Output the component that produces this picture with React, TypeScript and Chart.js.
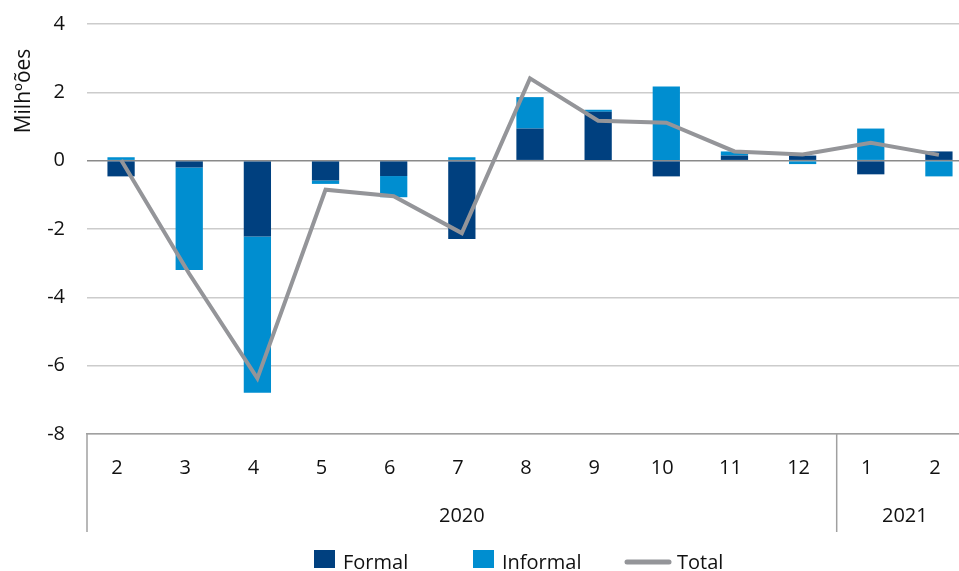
import React, { useEffect, useRef } from "react";
import { Chart, registerables } from "chart.js";

Chart.register(...registerables);

// ---- Data ----
const months = ["2", "3", "4", "5", "6", "7", "8", "9", "10", "11", "12", "1", "2"];
const years = ["2020", "2020", "2020", "2020", "2020", "2020", "2020", "2020", "2020", "2020", "2020", "2021", "2021"];
const formal = [-0.46, -0.2, -2.22, -0.58, -0.45, -2.29, 0.94, 1.43, -0.46, 0.15, 0.15, -0.4, 0.27];
const informal = [0.1, -3.0, -4.57, -0.1, -0.62, 0.1, 0.92, 0.06, 2.17, 0.12, -0.1, 0.94, -0.46];
const total = [0.02, -3.31, -6.37, -0.85, -1.04, -2.12, 2.41, 1.17, 1.11, 0.27, 0.18, 0.52, 0.17];
const yTicks = [4, 2, 0, -2, -4, -6, -8];
const yTitle = "Milh\u00BA\u00F5es";

// ---- Styles ----
const FONT = "'Open Sans', sans-serif";
const FORMAL_COLOR = "#00407F";
const INFORMAL_COLOR = "#008ED0";
const TOTAL_COLOR = "#949599";
const TEXT_COLOR = "#111111";
const AXIS_COLOR = "#a0a0a0";

const CANVAS_W = 973;
const CANVAS_H = 571;
const legendStarts = [314, 473, 625];

const decorPlugin = {
  id: "decor",
  afterDraw(chart: any) {
    const { ctx, chartArea, scales } = chart;
    const xs = scales.x;
    const half = (xs.getPixelForValue(1) - xs.getPixelForValue(0)) / 2;
    ctx.save();

    // Year groups with separators
    const groups: { label: string; start: number; end: number }[] = [];
    years.forEach((y, i) => {
      const g = groups[groups.length - 1];
      if (!g || g.label !== y) groups.push({ label: y, start: i, end: i });
      else g.end = i;
    });
    ctx.strokeStyle = AXIS_COLOR;
    ctx.lineWidth = 1.5;
    ctx.fillStyle = TEXT_COLOR;
    ctx.font = `20px ${FONT}`;
    ctx.textAlign = "center";
    ctx.textBaseline = "middle";
    groups.forEach((g) => {
      const l = xs.getPixelForValue(g.start) - half;
      const r = xs.getPixelForValue(g.end) + half;
      ctx.beginPath();
      ctx.moveTo(l, chartArea.bottom);
      ctx.lineTo(l, chartArea.bottom + 98);
      ctx.stroke();
      ctx.fillText(g.label, (l + r) / 2, chartArea.bottom + 82);
    });

    // Y-axis title
    ctx.save();
    ctx.translate(24, chartArea.top + 67);
    ctx.rotate(-Math.PI / 2);
    ctx.font = `21px ${FONT}`;
    ctx.textAlign = "center";
    ctx.textBaseline = "middle";
    ctx.fillText(yTitle, 0, 0);
    ctx.restore();

    // Legend
    const ly = 562;
    ctx.textAlign = "left";
    ctx.textBaseline = "middle";
    chart.data.datasets.forEach((ds: any, i: number) => {
      const x0 = legendStarts[i];
      let tx;
      if (ds.type === "line") {
        ctx.strokeStyle = ds.borderColor;
        ctx.lineWidth = 5;
        ctx.lineCap = "round";
        ctx.beginPath();
        ctx.moveTo(x0 + 2, ly);
        ctx.lineTo(x0 + 44, ly);
        ctx.stroke();
        tx = x0 + 52;
      } else {
        ctx.fillStyle = ds.backgroundColor;
        ctx.fillRect(x0, ly - 12, 21, 18);
        tx = x0 + 29;
      }
      ctx.fillStyle = TEXT_COLOR;
      ctx.fillText(ds.label, tx, ly + 1);
    });
    ctx.restore();
  },
};

export default function App() {
  const ref = useRef<HTMLCanvasElement | null>(null);

  useEffect(() => {
    if (!ref.current) return;
    const chart = new Chart(ref.current, {
      type: "bar",
      data: {
        labels: months,
        datasets: [
          {
            type: "bar",
            label: "Formal",
            data: formal,
            backgroundColor: FORMAL_COLOR,
            borderWidth: 0,
            order: 1,
            stack: "bars",
          },
          {
            type: "bar",
            label: "Informal",
            data: informal,
            backgroundColor: INFORMAL_COLOR,
            borderWidth: 0,
            order: 1,
            stack: "bars",
          },
          {
            type: "line",
            label: "Total",
            data: total,
            borderColor: TOTAL_COLOR,
            backgroundColor: TOTAL_COLOR,
            borderWidth: 4,
            pointRadius: 0,
            tension: 0,
            order: 0,
            stack: "total",
          } as any,
        ],
      },
      options: {
        responsive: false,
        animation: false,
        devicePixelRatio: 1,
        layout: { padding: { top: 24, left: 0, right: 0, bottom: 0 } },
        datasets: {
          bar: { categoryPercentage: 1, barPercentage: 0.4 },
        },
        plugins: {
          legend: { display: false },
          tooltip: { enabled: false },
          title: { display: false },
        },
        scales: {
          x: {
            stacked: true,
            grid: { display: false, drawTicks: false },
            border: { display: true, color: AXIS_COLOR, width: 1.5 },
            ticks: {
              color: TEXT_COLOR,
              font: { family: FONT, size: 20 },
              padding: 22,
              labelOffset: -4,
              maxRotation: 0,
              autoSkip: false,
            },
            afterFit: (s: any) => {
              s.height = 137;
              s.paddingLeft = 0;
              s.paddingRight = 0;
            },
          },
          y: {
            stacked: true,
            min: -8,
            max: 4,
            afterBuildTicks: (s: any) => {
              s.ticks = yTicks.map((v) => ({ value: v }));
            },
            grid: {
              drawTicks: false,
              color: (c: any) => (c.tick && c.tick.value === 0 ? "#8a8a8a" : "#cccccc"),
              lineWidth: 1.5,
            },
            border: { display: false },
            ticks: {
              color: TEXT_COLOR,
              font: { family: FONT, size: 20 },
              padding: 22,
            },
            afterFit: (s: any) => {
              s.width = 87;
              s.paddingTop = 0;
              s.paddingBottom = 0;
            },
          },
        },
      },
      plugins: [decorPlugin],
    });
    return () => chart.destroy();
  }, []);

  return (
    <div
      style={{
        position: "fixed",
        left: 0,
        top: 0,
        width: 959,
        height: CANVAS_H,
        overflow: "hidden",
        background: "#ffffff",
      }}
    >
      <canvas
        ref={ref}
        width={CANVAS_W}
        height={CANVAS_H}
        style={{ display: "block", width: CANVAS_W, height: CANVAS_H }}
      />
    </div>
  );
}
